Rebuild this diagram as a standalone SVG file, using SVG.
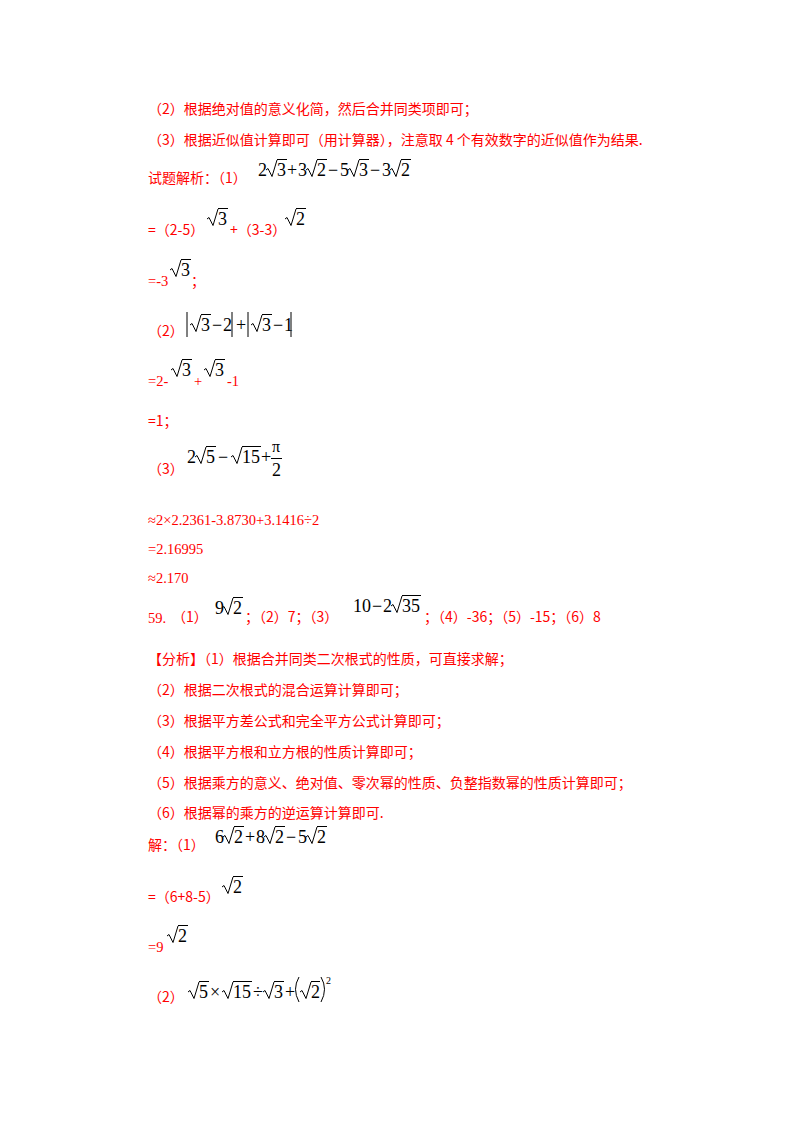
<svg xmlns="http://www.w3.org/2000/svg" width="800" height="1132" viewBox="0 0 800 1132">
<style>
.r{font-family:"Noto Sans CJK SC","Liberation Serif",sans-serif;font-size:14px;fill:#ff0000}
.n{font-family:"Liberation Serif",serif;font-size:14.5px;fill:#ff0000}
.m{font-family:"Liberation Serif",serif;font-size:18px;fill:#000}
.o{stroke:#000;stroke-width:1;fill:none}
</style>
<defs><path id="rad" d="M0,-6 l2,-1.5 l4,8 l5,-16.5" stroke="#000" stroke-width="1" fill="none"/></defs>
<rect width="800" height="1132" fill="#fff"/>
<text class="r" x="148" y="114">（2）根据绝对值的意义化简，然后合并同类项即可；</text>
<text class="r" x="148" y="145">（3）根据近似值计算即可（用计算器），注意取 4 个有效数字的近似值作为结果.</text>
<text class="r" x="148" y="183">试题解析：（1）</text>
<g>
<text class="m" x="258" y="176">2</text><use href="#rad" x="266" y="176"/><text class="m" x="277" y="176">3</text>
<text class="m" x="287" y="176">+</text><text class="m" x="298" y="176">3</text><use href="#rad" x="306" y="176"/><text class="m" x="317" y="176">2</text>
<text class="m" x="328" y="176">−</text><text class="m" x="340" y="176">5</text><use href="#rad" x="348" y="176"/><text class="m" x="359" y="176">3</text>
<text class="m" x="370" y="176">−</text><text class="m" x="382" y="176">3</text><use href="#rad" x="390" y="176"/><text class="m" x="401" y="176">2</text>
<path class="o" d="M277,159.5h10M317,159.5h10M359,159.5h10M401,159.5h10"/>
</g>
<text class="r" x="148" y="235">=（2-5）</text>
<use href="#rad" x="207" y="225"/><text class="m" x="218" y="225">3</text><path class="o" d="M218,208.5h10"/>
<text class="r" x="230" y="235">+（3-3）</text>
<use href="#rad" x="285" y="225"/><text class="m" x="296" y="225">2</text><path class="o" d="M296,208.5h10"/>
<text class="n" x="148" y="286">=-3</text>
<use href="#rad" x="170" y="276"/><text class="m" x="181" y="276">3</text><path class="o" d="M181,259.5h10"/>
<text class="r" x="191" y="286">；</text>
<text class="r" x="148" y="336">（2）</text>
<g>
<path class="o" d="M187,312v25M232,312v25M248,312v25M291,312v25"/>
<use href="#rad" x="190" y="331"/><text class="m" x="201" y="331">3</text><path class="o" d="M201,314.5h10"/>
<text class="m" x="212" y="331">−</text><text class="m" x="223" y="331">2</text>
<text class="m" x="236" y="331">+</text>
<use href="#rad" x="251" y="331"/><text class="m" x="262" y="331">3</text><path class="o" d="M262,314.5h10"/>
<text class="m" x="273" y="331">−</text><text class="m" x="284" y="331">1</text>
</g>
<text class="n" x="148" y="386">=2-</text>
<use href="#rad" x="171" y="376"/><text class="m" x="182" y="376">3</text><path class="o" d="M182,359.5h10"/>
<text class="n" x="194" y="386">+</text>
<use href="#rad" x="204" y="376"/><text class="m" x="215" y="376">3</text><path class="o" d="M215,359.5h10"/>
<text class="n" x="227" y="386">-1</text>
<text class="r" x="148" y="426">=1；</text>
<text class="r" x="148" y="474">（3）</text>
<g>
<text class="m" x="187" y="463">2</text><use href="#rad" x="195" y="463"/><text class="m" x="206" y="463">5</text><path class="o" d="M206,446.5h10"/>
<text class="m" x="218" y="463">−</text>
<use href="#rad" x="231" y="463"/><text class="m" x="242" y="463">15</text><path class="o" d="M242,446.5h19"/>
<text class="m" x="261" y="463">+</text>
<text class="m" x="272" y="452" style="font-size:16px">π</text><path class="o" d="M271,458.5h11"/>
<text class="m" x="272" y="476">2</text>
</g>
<text class="n" x="148" y="525">≈2×2.2361-3.8730+3.1416÷2</text>
<text class="n" x="148" y="554">=2.16995</text>
<text class="n" x="148" y="583">≈2.170</text>
<text class="n" x="148" y="623">59.</text><text class="r" x="172" y="622">（1）</text>
<text class="m" x="215" y="614">9</text><use href="#rad" x="222" y="614"/><text class="m" x="233" y="614">2</text><path class="o" d="M233,597.5h10"/>
<text class="r" x="245" y="622">；（2）7；（3）</text>
<text class="m" x="353" y="612">10</text><text class="m" x="372" y="612">−</text><text class="m" x="383" y="612">2</text><use href="#rad" x="391" y="612"/><text class="m" x="402" y="612">35</text><path class="o" d="M402,595.5h19"/>
<text class="r" x="424" y="622">；（4）-36；（5）-15；（6）8</text>
<text class="r" x="148" y="664">【分析】（1）根据合并同类二次根式的性质，可直接求解；</text>
<text class="r" x="148" y="695">（2）根据二次根式的混合运算计算即可；</text>
<text class="r" x="148" y="726">（3）根据平方差公式和完全平方公式计算即可；</text>
<text class="r" x="148" y="757">（4）根据平方根和立方根的性质计算即可；</text>
<text class="r" x="148" y="788">（5）根据乘方的意义、绝对值、零次幂的性质、负整指数幂的性质计算即可；</text>
<text class="r" x="148" y="818">（6）根据幂的乘方的逆运算计算即可.</text>
<text class="r" x="148" y="850">解：（1）</text>
<g>
<text class="m" x="215" y="843">6</text><use href="#rad" x="223" y="843"/><text class="m" x="234" y="843">2</text>
<text class="m" x="245" y="843">+</text><text class="m" x="256" y="843">8</text><use href="#rad" x="264" y="843"/><text class="m" x="275" y="843">2</text>
<text class="m" x="286" y="843">−</text><text class="m" x="298" y="843">5</text><use href="#rad" x="306" y="843"/><text class="m" x="317" y="843">2</text>
<path class="o" d="M234,826.5h10M275,826.5h10M317,826.5h10"/>
</g>
<text class="r" x="148" y="902">=（6+8-5）</text>
<use href="#rad" x="222" y="893"/><text class="m" x="233" y="893">2</text><path class="o" d="M233,876.5h10"/>
<text class="n" x="148" y="952">=9</text>
<use href="#rad" x="167" y="942"/><text class="m" x="178" y="942">2</text><path class="o" d="M178,925.5h10"/>
<text class="r" x="148" y="1002">（2）</text>
<g>
<use href="#rad" x="188" y="998"/><text class="m" x="199" y="998">5</text><path class="o" d="M199,981.5h10"/>
<text class="m" x="210" y="998">×</text>
<use href="#rad" x="222" y="998"/><text class="m" x="233" y="998">15</text><path class="o" d="M233,981.5h19"/>
<text class="m" x="253" y="998">÷</text>
<use href="#rad" x="263" y="998"/><text class="m" x="274" y="998">3</text><path class="o" d="M274,981.5h10"/>
<text class="m" x="285" y="998">+</text>
<path class="o" d="M299,977q-7,12 0,25M321,977q7,12 0,25"/>
<use href="#rad" x="300" y="998"/><text class="m" x="311" y="998">2</text><path class="o" d="M311,981.5h9"/>
<text class="m" x="326" y="984" style="font-size:10px">2</text>
</g>
</svg>
